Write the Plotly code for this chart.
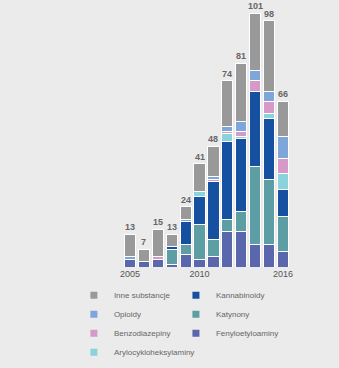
import plotly.graph_objects as go

years = list(range(2005, 2017))
fenyloetyloaminy = [3, 2, 3, 1, 5, 3, 4, 14, 14, 9, 9, 6]
katynony = [0, 0, 0, 6, 4, 14, 7, 5, 8, 31, 26, 14]
kannabinoidy = [0, 0, 0, 1, 9, 11, 23, 31, 29, 30, 24, 11]
arylocykloheksylaminy = [0, 0, 0, 0, 0, 2, 0, 3, 1, 0, 2, 6]
benzodiazepiny = [0, 0, 1, 0, 0, 0, 1, 1, 2, 4, 5, 6]
opioidy = [1, 0, 0, 0, 1, 0, 1, 2, 4, 4, 4, 9]
inne = [9, 5, 11, 5, 5, 11, 12, 18, 23, 23, 28, 14]

# name, values, colour, legend, rank
series = [
    ("Fenyloetyloaminy", fenyloetyloaminy, "#5a67ad", "legend2", 3),
    ("Katynony", katynony, "#5c9ea3", "legend2", 2),
    ("Kannabinoidy", kannabinoidy, "#1650a0", "legend2", 1),
    ("Arylocykloheksylaminy", arylocykloheksylaminy, "#8ad3dc", "legend", 4),
    ("Benzodiazepiny", benzodiazepiny, "#d59ac8", "legend", 3),
    ("Opioidy", opioidy, "#7ea6d9", "legend", 2),
    ("Inne substancje", inne, "#999999", "legend", 1),
]

fig = go.Figure()
for name, vals, color, leg, rank in series:
    fig.add_trace(go.Bar(
        x=years, y=vals, name=name, showlegend=False,
        marker=dict(color=color, line=dict(color="white", width=1)),
    ))
for name, vals, color, leg, rank in series:
    fig.add_trace(go.Scatter(
        x=[years[0]], y=[None], mode="markers", name=name, legend=leg,
        legendrank=rank, showlegend=True, hoverinfo="skip",
        marker=dict(symbol="square", size=7, color=color),
    ))

totals = [sum(v) for v in zip(*[s[1] for s in series])]
for x, t in zip(years, totals):
    fig.add_annotation(x=x, y=t, text=f"<b>{t}</b>", showarrow=False,
                       yanchor="bottom", yshift=0,
                       font=dict(size=9, color="#666666"))

legstyle = dict(orientation="v", xref="container", yref="container",
                yanchor="top", xanchor="left", traceorder="normal",
                itemwidth=30, tracegroupgap=0,
                font=dict(size=8, color="#666666"), bgcolor="rgba(0,0,0,0)")

fig.update_layout(
    width=339, height=368,
    barmode="stack", bargap=0.2,
    paper_bgcolor="#ebebeb", plot_bgcolor="#ebebeb",
    margin=dict(l=123, r=49, t=3, b=101, autoexpand=False),
    font=dict(family="Liberation Sans, Arial, sans-serif", size=9, color="#555555"),
    xaxis=dict(range=[2004.5, 2016.5], tickvals=[2005, 2010, 2016],
               showgrid=False, zeroline=False, showline=False, ticks="",
               tickfont=dict(size=9, color="#555555")),
    yaxis=dict(range=[0, 105], visible=False),
    legend=dict(x=0.218, y=0.237, **legstyle),
    legend2=dict(x=0.519, y=0.237, **legstyle),
)

fig.write_html("out.html")
